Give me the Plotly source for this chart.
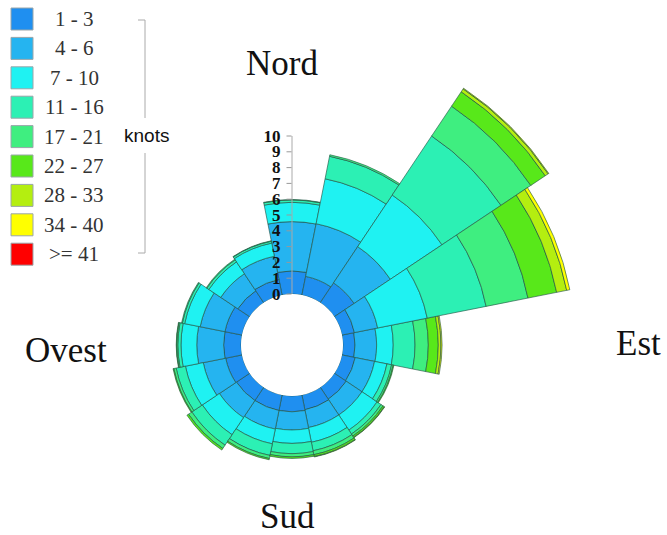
import plotly.graph_objects as go
import math

W, H = 667, 535

# ---------------- data ----------------
directions = [0, 22.5, 45, 67.5, 90, 112.5, 135, 157.5,
              180, 202.5, 225, 247.5, 270, 292.5, 315, 337.5]
speed_bins = ["1 - 3", "4 - 6", "7 - 10", "11 - 16", "17 - 21",
              "22 - 27", "28 - 33", "34 - 40", ">= 41"]
bin_colors = ["#1f8ff0", "#25b4f0", "#1ff2f2", "#2cf0b4", "#3fee80",
              "#58e81a", "#b4ee10", "#ffff00", "#ff0000"]

f_1_3   = [1.46, 1.2, 1.5, 0.8, 0.76, 0.85, 0.9, 0.95, 1.0, 1.0, 1.0, 1.05, 1.1, 1.1, 0.9, 1.0]
f_4_6   = [3.12, 3.4, 2.76, 1.5, 1.37, 1.25, 1.2, 1.15, 1.15, 1.2, 1.3, 1.45, 1.7, 1.6, 1.3, 1.5]
f_7_10  = [1.22, 2.9, 3.93, 3.2, 1.05, 0.8, 1.15, 0.95, 0.85, 0.95, 1.3, 1.15, 1.0, 1.0, 0.9, 0.85]
f_11_16 = [0.15, 1.45, 4.49, 3.8, 1.38, 0.3, 0.3, 0.55, 0.65, 0.75, 0.8, 0.6, 0.2, 0.15, 0.15, 0.12]
f_17_21 = [0.03, 0.1, 2.27, 2.7, 0.84, 0.1, 0.15, 0.25, 0.2, 0.2, 0.25, 0.15, 0.07, 0.05, 0.05, 0.03]
f_22_27 = [0, 0, 1.1, 1.85, 0.63, 0.05, 0.1, 0.12, 0.1, 0.08, 0.12, 0.05, 0.03, 0, 0, 0]
f_28_33 = [0, 0, 0.22, 0.65, 0.17, 0, 0.03, 0.03, 0, 0, 0, 0, 0, 0, 0, 0]
f_34_40 = [0, 0, 0.05, 0.2, 0.07, 0, 0, 0, 0, 0, 0, 0, 0, 0, 0, 0]
f_41    = [0] * 16

series = [f_1_3, f_4_6, f_7_10, f_11_16, f_17_21, f_22_27, f_28_33, f_34_40, f_41]

radial_ticks = list(range(0, 11))
cardinals = ["Nord", "Est", "Sud", "Ovest"]
unit_label = "knots"

# ---------------- geometry (pixels) ----------------
cx, cy = 292, 345          # rose centre
r_hole = 51                # hole radius
px_per_unit = 15.8         # radial scale
range_small = 7            # full-circle subplot (short directions)
range_big = 17             # NE-quadrant subplot (long directions)
range_axis = 10            # subplot carrying the visible radial axis


def px_x(p):
    return p / W


def px_y(p):
    return 1 - p / H


def radius(rng):
    return r_hole + px_per_unit * rng


long_dirs = {22.5, 45, 67.5}

fig = go.Figure()
line_style = dict(color="rgba(35,85,70,0.8)", width=0.8)
for name, color, vals in zip(speed_bins, bin_colors, series):
    th_s = [d for d in directions if d not in long_dirs]
    r_s = [v for d, v in zip(directions, vals) if d not in long_dirs]
    th_l = [d for d in directions if d in long_dirs]
    r_l = [v for d, v in zip(directions, vals) if d in long_dirs]
    fig.add_trace(go.Barpolar(r=r_s, theta=th_s, width=[22.5] * len(th_s), name=name,
                              subplot="polar", showlegend=False, hoverinfo="skip",
                              marker=dict(color=color, line=line_style)))
    fig.add_trace(go.Barpolar(r=r_l, theta=th_l, width=[22.5] * len(th_l), name=name,
                              subplot="polar2", showlegend=False, hoverinfo="skip",
                              marker=dict(color=color, line=line_style)))

# invisible trace so the axis-only subplot is created
fig.add_trace(go.Scatterpolar(r=[0], theta=[0], mode="markers", subplot="polar3",
                              marker=dict(size=1, opacity=0), showlegend=False,
                              hoverinfo="skip"))

R1 = radius(range_small)
R2 = radius(range_big)
R3 = radius(range_axis)
s3 = math.cos(math.radians(80))

common_ang = dict(visible=False, direction="clockwise", rotation=90)
fig.update_layout(
    polar=dict(
        domain=dict(x=[px_x(cx - R1), px_x(cx + R1)], y=[px_y(cy + R1), px_y(cy - R1)]),
        hole=r_hole / R1, bgcolor="rgba(0,0,0,0)", barmode="stack", bargap=0,
        angularaxis=common_ang,
        radialaxis=dict(visible=False, range=[0, range_small]),
    ),
    polar2=dict(
        domain=dict(x=[px_x(cx), px_x(cx + R2)], y=[px_y(cy), px_y(cy - R2)]),
        sector=[0, 90],
        hole=r_hole / R2, bgcolor="rgba(0,0,0,0)", barmode="stack", bargap=0,
        angularaxis=common_ang,
        radialaxis=dict(visible=False, range=[0, range_big]),
    ),
    polar3=dict(
        domain=dict(x=[px_x(cx - s3 * R3), px_x(cx + s3 * R3)], y=[px_y(cy), px_y(cy - R3)]),
        sector=[80, 100],
        hole=r_hole / R3, bgcolor="rgba(0,0,0,0)",
        angularaxis=common_ang,
        radialaxis=dict(
            range=[0, range_axis], angle=90, side="counterclockwise",
            tickvals=radial_ticks, ticktext=[str(t) for t in radial_ticks],
            ticks="outside", ticklen=5, tickcolor="#999999",
            showline=True, linecolor="#aaaaaa", linewidth=1,
            showgrid=False, tickangle=90,
            tickfont=dict(family="Liberation Serif", size=17, color="#111111", weight="bold"),
        ),
    ),
)

shapes = []
annotations = []
# legend swatches
row0, step, sw = 19, 29.4, 22
for i, (name, color) in enumerate(zip(speed_bins, bin_colors)):
    yc = row0 + i * step
    shapes.append(dict(type="rect", xref="paper", yref="paper",
                       x0=px_x(11), x1=px_x(11 + sw),
                       y0=px_y(yc + sw / 2), y1=px_y(yc - sw / 2),
                       fillcolor=color, line=dict(color="#9aa6aa", width=1)))
    annotations.append(dict(text=name, xref="paper", yref="paper",
                            x=px_x(74), y=px_y(yc), xanchor="center", yanchor="middle",
                            showarrow=False,
                            font=dict(family="Liberation Serif", size=21, color="#333333")))
# bracket
bx, btop, bbot = 145, 20, 253
for (ya, yb) in [(btop, 118), (153, bbot)]:
    shapes.append(dict(type="line", xref="paper", yref="paper",
                       x0=px_x(bx), x1=px_x(bx), y0=px_y(ya), y1=px_y(yb),
                       line=dict(color="#aaaaaa", width=1)))
for yy in (btop, bbot):
    shapes.append(dict(type="line", xref="paper", yref="paper",
                       x0=px_x(bx - 7), x1=px_x(bx), y0=px_y(yy), y1=px_y(yy),
                       line=dict(color="#aaaaaa", width=1)))
annotations.append(dict(text=unit_label, xref="paper", yref="paper",
                        x=px_x(146), y=px_y(136), xanchor="center", yanchor="middle",
                        showarrow=False,
                        font=dict(family="Liberation Sans", size=19, color="#111111")))

# cardinal labels
card_pos = [(282, 64), (638, 343), (287, 516), (66, 350)]
for txt, (x, y) in zip(cardinals, card_pos):
    annotations.append(dict(text=txt, xref="paper", yref="paper",
                            x=px_x(x), y=px_y(y), xanchor="center", yanchor="middle",
                            showarrow=False,
                            font=dict(family="Liberation Serif", size=35, color="#111111")))

fig.update_layout(width=W, height=H, margin=dict(l=0, r=0, t=0, b=0),
                  paper_bgcolor="white", plot_bgcolor="white",
                  shapes=shapes, annotations=annotations, showlegend=False)

fig.write_html("out.html")
